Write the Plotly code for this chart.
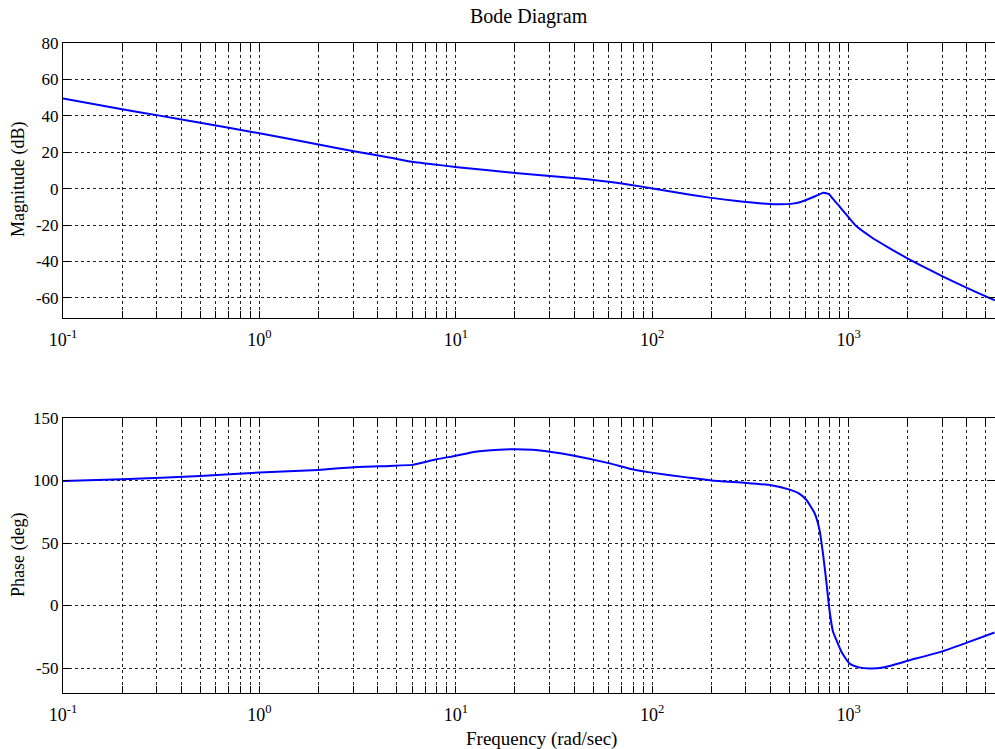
import plotly.graph_objects as go
from plotly.subplots import make_subplots

# ---- data ----
freq_mag = [0.1, 0.2, 0.3, 0.5, 1.0, 2.06, 3.07, 4.5, 6.1, 7.4, 10.2, 20.8, 41, 54, 70, 90,
            120, 196, 270, 351, 430, 519, 570, 607, 680, 743, 770, 798, 830, 900, 969, 1089,
            1300, 1611, 2115, 3006, 4000, 4990, 5550]
magnitude_db = [49.5, 43.6, 40.4, 36.2, 30.4, 24.0, 20.4, 17.3, 14.6, 13.6, 11.8, 8.5, 5.8, 4.4,
                2.8, 1.0, -1.3, -4.9, -6.8, -8.0, -8.5, -8.2, -7.3, -6.2, -4.0, -2.2, -2.5, -3.2,
                -5.5, -9.8, -14.0, -20.4, -26.5, -32.6, -39.8, -48.1, -54.5, -59.1, -61.3]

freq_phase = [0.1, 0.2, 0.5, 1, 2, 3, 4.6, 6, 6.8, 8, 10, 12.6, 16.6, 20, 24.5, 30, 40, 60, 79,
              97, 150, 200, 301, 404, 501, 560, 608, 671, 711, 740, 769, 800, 832, 870, 918,
              1012, 1130, 1279, 1496, 2045, 3020, 4130, 5530]
phase_deg = [99.7, 101, 103.7, 106.4, 108.5, 110.7, 111.7, 112.5, 114.4, 117, 119.8, 123, 124.6,
             125.1, 124.6, 123, 119.8, 113.9, 109, 106.5, 102.5, 100, 98.1, 96.2, 92.7, 89.5,
             84.6, 73.8, 60.3, 41.4, 19.7, -4.6, -20.8, -28.4, -37, -46.5, -49.5, -50.3, -49.6,
             -43.8, -36.5, -28.9, -21.6]

x_decades = [-1, 0, 1, 2, 3, 4]
x_tick_text = ["10<sup>-1</sup>", "10<sup>0</sup>", "10<sup>1</sup>", "10<sup>2</sup>",
               "10<sup>3</sup>", "10<sup>4</sup>"]
mag_ticks = [-60, -40, -20, 0, 20, 40, 60, 80]
mag_tick_text = ["-60", "-40", "-20", "0", "20", "40", "60", "80"]
phase_ticks = [-50, 0, 50, 100, 150]
phase_tick_text = ["-50", "0", "50", "100", "150"]

title_text = "Bode Diagram"
mag_label = "Magnitude (dB)"
phase_label = "Phase (deg)"
freq_label = "Frequency (rad/sec)"

# ---- figure ----
W, H = 995, 749
ML, MR, MT, MB = 63, 0, 43, 56
PH = H - MT - MB
FAM = "Liberation Serif, Times New Roman, serif"

def py(ypix):
    return (H - MB - ypix) / PH

fig = make_subplots(rows=2, cols=1)
fig.add_trace(go.Scatter(x=freq_mag, y=magnitude_db, mode="lines",
                         line=dict(color="#0000FF", width=2, shape="spline", smoothing=0.5),
                         showlegend=False), row=1, col=1)
fig.add_trace(go.Scatter(x=freq_phase, y=phase_deg, mode="lines",
                         line=dict(color="#0000FF", width=2, shape="spline", smoothing=0.5),
                         showlegend=False), row=2, col=1)

font = dict(family=FAM, size=17, color="black")
xfont = dict(family=FAM, size=18, color="black")
major_vals = [10 ** d for d in x_decades]
minor_vals = [k * 10 ** d for d in x_decades for k in range(2, 10)]
grid_dash = "3px,3px"
grid_col = "#222222"

xaxis_common = dict(
    type="log", range=[-1, 3.745],
    tickmode="array", tickvals=major_vals, ticktext=x_tick_text,
    ticks="inside", ticklen=7, tickcolor="black", ticklabelstandoff=5,
    showline=True, linecolor="black", linewidth=1, mirror="ticks",
    showgrid=True, gridcolor=grid_col, griddash=grid_dash, gridwidth=1,
    minor=dict(tickmode="array", tickvals=minor_vals, ticks="inside", ticklen=7,
               tickcolor="black", showgrid=True, gridcolor=grid_col,
               griddash=grid_dash, gridwidth=1),
    zeroline=False, tickfont=xfont, domain=[0, 1],
)
fig.update_xaxes(**xaxis_common)

yaxis_common = dict(
    ticks="inside", ticklen=7, tickcolor="black",
    showline=True, linecolor="black", linewidth=1, mirror="ticks",
    showgrid=True, gridcolor=grid_col, griddash=grid_dash, gridwidth=1,
    zeroline=False, tickfont=font, tickmode="array",
)
fig.update_yaxes(**yaxis_common)
fig.update_yaxes(range=[-71, 80], tickvals=mag_ticks, ticktext=mag_tick_text,
                 domain=[py(318), py(43)], row=1, col=1)
fig.update_yaxes(range=[-70, 150], tickvals=phase_ticks, ticktext=phase_tick_text,
                 domain=[py(693), py(418)], row=2, col=1)

lab_font = dict(family=FAM, size=18, color="black")
ann = [
    dict(text=title_text, x=0.5, xref="paper", y=py(17), yref="paper",
         showarrow=False, xanchor="center", yanchor="middle",
         font=dict(family=FAM, size=20, color="black")),
    dict(text=mag_label, x=(18 - ML) / (W - ML - MR), xref="paper", y=py(180),
         yref="paper", showarrow=False, textangle=-90, xanchor="center",
         yanchor="middle", font=lab_font),
    dict(text=phase_label, x=(18 - ML) / (W - ML - MR), xref="paper", y=py(555),
         yref="paper", showarrow=False, textangle=-90, xanchor="center",
         yanchor="middle", font=lab_font),
    dict(text=freq_label, x=(541 - ML) / (W - ML - MR), xref="paper", y=py(739),
         yref="paper", showarrow=False, xanchor="center", yanchor="middle",
         font=dict(family=FAM, size=19, color="black")),
]

fig.update_layout(
    width=W, height=H,
    margin=dict(l=ML, r=MR, t=MT, b=MB),
    plot_bgcolor="white", paper_bgcolor="white",
    annotations=ann, showlegend=False,
)

fig.write_html("out.html", config={"displayModeBar": False})

# remove default browser body margin so the figure sits at the page origin
with open("out.html", "r", encoding="utf-8") as f:
    html = f.read()
html = html.replace("<body>", '<body style="margin:0;padding:0;overflow:hidden;">', 1)
with open("out.html", "w", encoding="utf-8") as f:
    f.write(html)
